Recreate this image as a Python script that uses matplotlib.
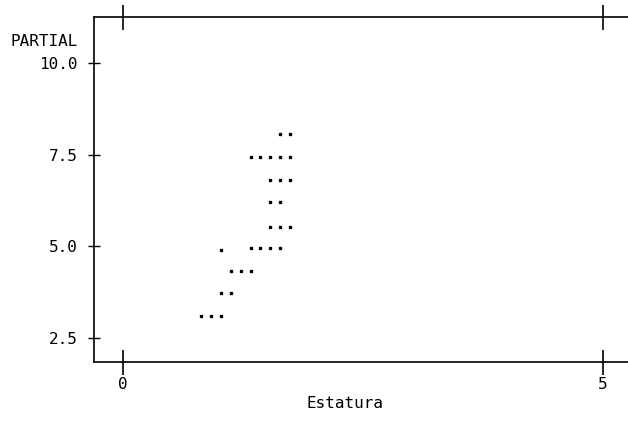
import matplotlib.pyplot as plt

# Estatura vs residuo parcial
estatura = [0.81, 0.92, 1.02,
            1.02, 1.125,
            1.125, 1.23, 1.33,
            1.02,
            1.33, 1.43, 1.53, 1.635,
            1.53, 1.635, 1.74,
            1.53, 1.635,
            1.53, 1.635, 1.74,
            1.33, 1.43, 1.53, 1.635, 1.74,
            1.635, 1.74]
parcial = [3.10, 3.10, 3.10,
           3.72, 3.72,
           4.32, 4.32, 4.32,
           4.89,
           4.97, 4.97, 4.97, 4.97,
           5.54, 5.54, 5.54,
           6.22, 6.22,
           6.82, 6.82, 6.82,
           7.45, 7.45, 7.45, 7.45, 7.45,
           8.07, 8.07]

xticks = [0, 5]
yticks = [2.5, 5.0, 7.5, 10.0]
ytick_labels = ['2.5', '5.0', '7.5', '10.0']

fuente = {'family': 'DejaVu Sans Mono', 'size': 11.5, 'color': 'black'}

fig = plt.figure(figsize=(6.28, 4.40), dpi=100)
ax = fig.add_axes([0.1497, 0.1773, 0.8503, 0.7847])

ax.plot(estatura, parcial, linestyle='none', marker='s', ms=1.7,
        mfc='black', mec='black')

ax.set_xlim(-0.30, 5.26)
ax.set_ylim(1.85, 11.26)

ax.spines['right'].set_visible(False)
for s in ['left', 'top', 'bottom']:
    ax.spines[s].set_linewidth(1.2)

ax.set_xticks(xticks)
ax.set_xticklabels([str(t) for t in xticks], fontdict=fuente)
ax.set_yticks(yticks)
ax.set_yticklabels(ytick_labels, fontdict=fuente)

ax.tick_params(axis='x', direction='inout', length=18, width=1.2,
               top=True, pad=2)
ax.tick_params(axis='y', direction='inout', length=8, width=1.0, pad=8)

fig.text(78 / 628, 1 - 42 / 440, 'PARTIAL', ha='right', va='center',
         fontdict=fuente)
fig.text(345 / 628, 1 - 403 / 440, 'Estatura', ha='center', va='center',
         fontdict=fuente)

fig.savefig('out.png', dpi=100)
